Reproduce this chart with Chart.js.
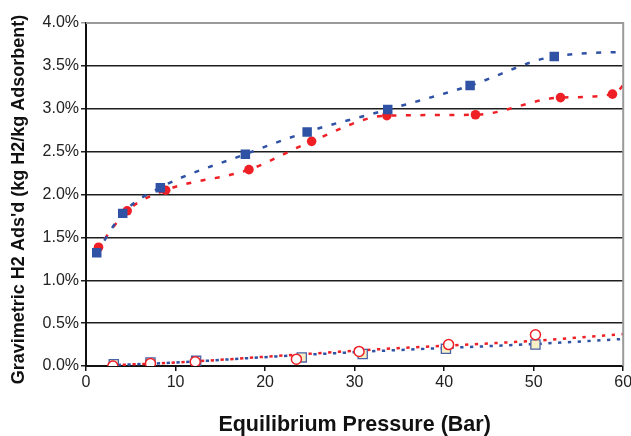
<!DOCTYPE html>
<html>
<head>
<meta charset="utf-8">
<script src="https://cdn.jsdelivr.net/npm/chart.js@4"></script>
<style>
  html, body { margin: 0; padding: 0; background: #fff; }
  #wrap { width: 631px; height: 436px; }
</style>
</head>
<body>
<div id="wrap"><canvas id="isoChart" width="631" height="436"></canvas></div>
<script>
// pressure (bar) and uptake (wt %)
const blueP = [1.2, 4.1, 8.3, 17.8, 24.7, 33.7, 42.9, 52.3, 63];   // last point is past the 60 bar edge
const blueUp = [1.32, 1.78, 2.08, 2.47, 2.73, 2.99, 3.27, 3.61, 3.67];
const redP = [1.4, 4.6, 8.9, 18.2, 25.2, 33.6, 43.5, 53.0, 58.8, 62];
const redUp = [1.385, 1.81, 2.05, 2.29, 2.62, 2.92, 2.93, 3.13, 3.17, 3.6];

const openCircP = [3.0, 7.2, 12.2, 23.5, 30.5, 40.5, 50.2];
const openCircUp = [0.00, 0.03, 0.05, 0.08, 0.17, 0.25, 0.365];
const openSqP = [3.1, 7.2, 12.3, 24.1, 30.9, 40.2, 50.2];
const openSqUp = [0.02, 0.04, 0.06, 0.10, 0.14, 0.20, 0.25];

// dotted trend lines of the low series
const trendP = [3, 10, 21, 32.6, 50.2, 60];
const redTrend = [0.01, 0.04, 0.115, 0.195, 0.295, 0.373];
const blueTrend = [0.01, 0.04, 0.11, 0.175, 0.257, 0.315];

const xTicks = [0, 10, 20, 30, 40, 50, 60];
const yTicks = [0, 0.5, 1.0, 1.5, 2.0, 2.5, 3.0, 3.5, 4.0];

const BLUE = '#2F52A4';
const RED = '#EE2026';
const tickFont = { family: "'Liberation Sans', Arial, sans-serif", size: 16 };

function pts(xs, ys) {
    return xs.map((x, i) => ({ x: x, y: ys[i] }));
}

// hide markers on points that sit outside the axis range
function hideOff(r) {
    return ctx => (ctx.raw && ctx.raw.x > 60 ? 0 : r);
}

const frame = {
    id: 'frame',
    afterDatasetsDraw(chart) {
        const a = chart.chartArea;
        const c = chart.ctx;
        c.save();
        c.strokeStyle = '#9a9a9a';
        c.lineWidth = 2;
        c.beginPath();
        c.moveTo(a.left, a.top);
        c.lineTo(a.right, a.top);
        c.lineTo(a.right, a.bottom);
        c.stroke();
        c.restore();
    }
};

const chart = new Chart(document.getElementById('isoChart'), {
    type: 'scatter',
    data: {
        datasets: [
            {
                label: 'blue',
                data: pts(blueP, blueUp),
                showLine: true,
                borderColor: BLUE,
                backgroundColor: BLUE,
                borderWidth: 2.5,
                borderDash: [5, 9.5],
                cubicInterpolationMode: 'monotone',
                pointStyle: 'rect',
                pointRadius: hideOff(6.7),
                pointBorderWidth: 0,
                order: 1
            },
            {
                label: 'red',
                data: pts(redP, redUp),
                showLine: true,
                borderColor: RED,
                backgroundColor: RED,
                borderWidth: 2.5,
                borderDash: [5, 9.5],
                borderDashOffset: 4,
                cubicInterpolationMode: 'monotone',
                pointStyle: 'circle',
                pointRadius: hideOff(4.8),
                pointBorderWidth: 0,
                order: 2
            },
            {
                label: 'red trend',
                data: pts(trendP, redTrend),
                showLine: true,
                borderColor: RED,
                borderWidth: 2.5,
                borderDash: [3.3, 6.5],
                cubicInterpolationMode: 'monotone',
                pointRadius: 0,
                order: 5
            },
            {
                label: 'blue trend',
                data: pts(trendP, blueTrend),
                showLine: true,
                borderColor: BLUE,
                borderWidth: 2.5,
                borderDash: [3.3, 6.5],
                borderDashOffset: 5,
                cubicInterpolationMode: 'monotone',
                pointRadius: 0,
                order: 6
            },
            {
                label: 'open squares',
                data: pts(openSqP, openSqUp),
                pointStyle: 'rect',
                pointRadius: 6.5,
                pointBorderWidth: 1.3,
                borderColor: '#4A62A8',
                backgroundColor: '#F7F0C6',
                order: 4
            },
            {
                label: 'open circles',
                data: pts(openCircP, openCircUp),
                pointStyle: 'circle',
                pointRadius: 5,
                pointBorderWidth: 1.5,
                borderColor: RED,
                backgroundColor: '#ffffff',
                order: 3
            }
        ]
    },
    options: {
        responsive: false,
        animation: false,
        layout: { padding: { top: 23, right: 1, left: 0, bottom: 0 } },
        plugins: {
            legend: { display: false },
            tooltip: { enabled: false }
        },
        scales: {
            x: {
                type: 'linear',
                min: 0,
                max: 60,
                afterBuildTicks: s => { s.ticks = xTicks.map(v => ({ value: v })); },
                afterFit: s => { s.height = 70; s.paddingLeft = 0; s.paddingRight = 0; },
                border: { color: '#111', width: 2 },
                grid: { drawOnChartArea: false, drawTicks: true, tickLength: 5, color: '#111', lineWidth: 1.5 },
                ticks: { padding: 2, color: '#222', font: tickFont },
                title: {
                    display: true,
                    text: 'Equilibrium Pressure (Bar)',
                    color: '#111',
                    padding: { top: 0, bottom: 0 },
                    font: { family: "'Liberation Sans', Arial, sans-serif", size: 21.5, weight: 'bold', lineHeight: 1.0 }
                }
            },
            y: {
                type: 'linear',
                min: 0,
                max: 4.0,
                afterBuildTicks: s => { s.ticks = yTicks.map(v => ({ value: v })); },
                afterFit: s => { s.width = 86; s.paddingTop = 0; s.paddingBottom = 0; },
                border: { color: '#111', width: 2 },
                grid: {
                    color: ctx => (ctx.tick && ctx.tick.value === 4 ? '#9a9a9a' : '#1e1e1e'),
                    lineWidth: 1.5,
                    drawTicks: true,
                    tickLength: 5
                },
                ticks: {
                    padding: 2,
                    color: '#222',
                    font: tickFont,
                    callback: v => v.toFixed(1) + '%'
                },
                title: {
                    display: true,
                    // trailing spaces nudge the rotated title down a little
                    text: "Gravimetric H2 Ads'd (kg H2/kg Adsorbent)\u00a0\u00a0",
                    color: '#111',
                    padding: { top: 8, bottom: 0 },
                    font: { family: "'Liberation Sans', Arial, sans-serif", size: 18, weight: 'bold' }
                }
            }
        }
    },
    plugins: [frame]
});
</script>
</body>
</html>
